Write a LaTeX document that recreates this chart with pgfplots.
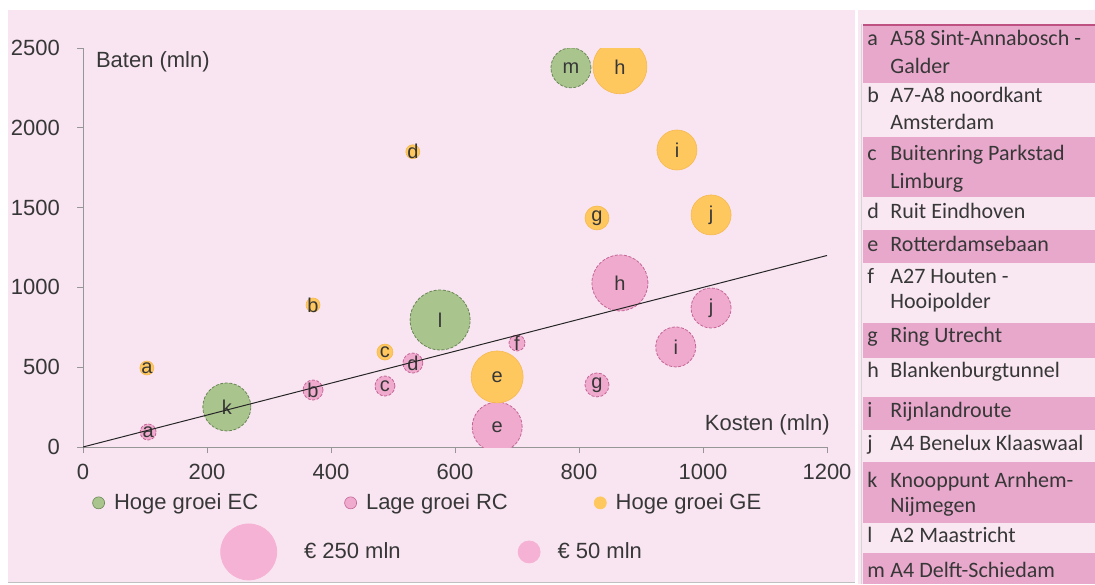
\documentclass[border=0pt]{standalone}
\usepackage{fontspec}
\setmainfont{Liberation Sans}
\newfontfamily\tablefont{Carlito}
\usepackage{pgfplots}
\usepackage{pgfplotstable}
\pgfplotsset{compat=1.18}

\definecolor{chartbg}{RGB}{249,229,241}
\definecolor{panelbg}{RGB}{249,232,242}
\definecolor{rowpink}{RGB}{232,168,204}
\definecolor{rowline}{RGB}{190,80,130}
\definecolor{greenfill}{RGB}{170,196,142}
\definecolor{greendraw}{RGB}{105,135,85}
\definecolor{pinkfill}{RGB}{240,170,206}
\definecolor{pinkdraw}{RGB}{195,100,150}
\definecolor{yellowfill}{RGB}{255,200,95}
\definecolor{yellowdraw}{RGB}{245,185,80}
\definecolor{legpink}{RGB}{246,178,212}
\definecolor{txt}{RGB}{55,55,55}
\definecolor{axgray}{RGB}{150,150,150}

% x = kosten, y = baten, r = bubble radius (px), lab = project
\pgfplotstableread{
x y r lab
232 251 24 k
576 796 30 l
787 2376 20 m
}\greenpts

\pgfplotstableread{
x y r lab
105 94 8 a
371 357 10 b
487 382 10 c
532 526 10 d
668 125 25 e
700 652 8 f
829 389 12 g
866 1028 28 h
956 627 20 i
1013 871 20 j
}\pinkpts

\pgfplotstableread{
x y r lab
103 495 7 a
371 890 7 b
487 595 8 c
532 1850 7 d
668 439 26 e
829 1435 12 g
866 2382 27 h
958 1861 20 i
1013 1454 20 j
}\yellowpts

\pgfplotsset{
  bubbles/.style={
    only marks, mark=*,
    point meta=explicit symbolic,
    nodes near coords,
    nodes near coords align=center,
    every node near coord/.append style={font=\fontsize{10}{12}\selectfont, text=txt, inner sep=0pt},
    visualization depends on={\thisrow{r}/2 \as \rad},
    scatter/@pre marker code/.append style={/tikz/mark size=\rad},
  },
}

\newcommand\tabline[3]{%
  \node[anchor=west, text height=1.5ex, text depth=.4ex, inner sep=0pt, text=txt, font=\tablefont\fontsize{11}{13}\selectfont] at (433.5pt,#1) {#2};
  \node[anchor=west, text height=1.5ex, text depth=.4ex, inner sep=0pt, text=txt, font=\tablefont\fontsize{11}{13}\selectfont] at (445pt,#1) {#3};}

\begin{document}
\begin{tikzpicture}
\useasboundingbox (0,0) rectangle (547.5pt,292pt);
\fill[white] (0,0) rectangle (547.5pt,292pt);
\fill[chartbg] (4pt,1pt) rectangle (427.5pt,287pt);
\draw[axgray!60, line width=0.4pt] (4pt,1pt) -- (427.5pt,1pt);
\fill[panelbg] (429pt,0pt) rectangle (547.5pt,287pt);
\draw[axgray!40, line width=0.3pt] (430.5pt,0pt) -- (430.5pt,280pt);

% table rows
\foreach \ya/\yb in {279.5/250.5, 223.5/193.5, 177/160.5, 130.5/113, 93.5/77, 61/30.5, 15.5/0}
  \fill[rowpink] (431.5pt,\ya pt) rectangle (547.5pt,\yb pt);
\draw[rowline, line width=0.6pt] (431.5pt,279.5pt) -- (547.5pt,279.5pt);

\tabline{272pt}{a}{A58 Sint-Annabosch -}
\tabline{258pt}{}{Galder}
\tabline{243.5pt}{b}{A7-A8 noordkant}
\tabline{230pt}{}{Amsterdam}
\tabline{214.5pt}{c}{Buitenring Parkstad}
\tabline{200.5pt}{}{Limburg}
\tabline{185.5pt}{d}{Ruit Eindhoven}
\tabline{169pt}{e}{Rotterdamsebaan}
\tabline{153pt}{f}{A27 Houten -}
\tabline{140.5pt}{}{Hooipolder}
\tabline{123.5pt}{g}{Ring Utrecht}
\tabline{106pt}{h}{Blankenburgtunnel}
\tabline{86pt}{i}{Rijnlandroute}
\tabline{69.5pt}{j}{A4 Benelux Klaaswaal}
\tabline{51pt}{k}{Knooppunt Arnhem-}
\tabline{38.5pt}{}{Nijmegen}
\tabline{23.5pt}{l}{A2 Maastricht}
\tabline{6pt}{m}{A4 Delft-Schiedam}

\begin{axis}[
  at={(41.5pt,68.5pt)}, anchor=south west,
  scale only axis, width=372pt, height=199.5pt,
  xmin=0, xmax=1200, ymin=0, ymax=2500,
  xtick={0,200,...,1200}, ytick={0,500,...,2500},
  axis lines=left, axis line style={-, draw=axgray, line width=0.5pt},
  tick style={draw=axgray, line width=0.5pt}, tick align=outside, major tick length=3pt,
  every tick label/.append style={font=\fontsize{11}{13}\selectfont, text=txt},
  /pgf/number format/assume math mode=true,
  /pgf/number format/1000 sep={},
  xticklabel style={yshift=-2pt},
  yticklabel style={xshift=-5pt},
  xlabel={Kosten (mln)}, ylabel={Baten (mln)},
  label style={font=\fontsize{11}{13}\selectfont, text=txt},
  xlabel style={at={(rel axis cs:1.013,0.055)}, anchor=east},
  ylabel style={at={(rel axis cs:0.008,0.965)}, anchor=west, rotate=-90},
  clip mode=individual, clip marker paths=true,
  legend columns=3,
  legend style={at={(0.012,-0.14)}, anchor=west, draw=none, fill=none,
    font=\fontsize{11}{13}\selectfont, text=txt, inner sep=0pt,
    /tikz/every even column/.append style={column sep=41pt}},
]
\addplot[bubbles, mark options={fill=greenfill, draw=greendraw, line width=0.4pt, dash pattern=on 1.5pt off 0.8pt},
  legend image code/.code={\fill[greenfill, draw=greendraw, line width=0.3pt] (3pt,0pt) circle (3pt); \path (8.5pt,0pt);}]
  table[x=x, y=y, meta=lab] {\greenpts};
\addlegendentry{Hoge groei EC}
\addplot[bubbles, mark options={fill=pinkfill, draw=pinkdraw, line width=0.4pt, dash pattern=on 1.5pt off 0.8pt},
  legend image code/.code={\fill[pinkfill, draw=pinkdraw, line width=0.3pt] (3pt,0pt) circle (3pt); \path (8.5pt,0pt);}]
  table[x=x, y=y, meta=lab] {\pinkpts};
\addlegendentry{Lage groei RC}
\addplot[bubbles, mark options={fill=yellowfill, draw=yellowdraw, line width=0.3pt},
  legend image code/.code={\fill[yellowfill] (3pt,0pt) circle (3pt); \path (8.5pt,0pt);}]
  table[x=x, y=y, meta=lab] {\yellowpts};
\addlegendentry{Hoge groei GE}
\addplot[black!85, line width=0.5pt, forget plot] coordinates {(0,0) (1200,1200)};
\end{axis}

% bubble size key
\begin{axis}[
  at={(41.5pt,68.5pt)}, anchor=south west,
  scale only axis, width=372pt, height=199.5pt,
  hide axis, xmin=0, xmax=1, ymin=0, ymax=1,
  legend columns=2,
  legend style={at={(0.184,-0.263)}, anchor=west, draw=none, fill=none,
    font=\fontsize{11}{13}\selectfont, text=txt, inner sep=0pt,
    /tikz/every even column/.append style={column sep=56.5pt}},
]
\addlegendimage{legend image code/.code={\fill[legpink] (14pt,0pt) circle (14pt); \path (39.5pt,0pt);}}
\addlegendentry{€ 250 mln}
\addlegendimage{legend image code/.code={\fill[legpink] (5.5pt,0pt) circle (5.5pt); \path (17.5pt,0pt);}}
\addlegendentry{€ 50 mln}
\end{axis}
\end{tikzpicture}
\end{document}
